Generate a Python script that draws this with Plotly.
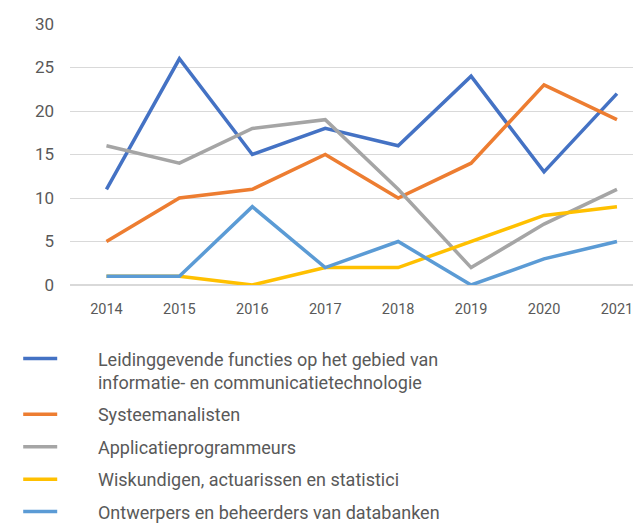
import plotly.graph_objects as go

years = ["2014", "2015", "2016", "2017", "2018", "2019", "2020", "2021"]
pad = "\u00a0" * 8
names = [
    pad + "Leidinggevende functies op het gebied van<br>" + pad + "informatie- en communicatietechnologie",
    pad + "Systeemanalisten",
    pad + "Applicatieprogrammeurs",
    pad + "Wiskundigen, actuarissen en statistici",
    pad + "Ontwerpers en beheerders van databanken",
]
leidinggevende = [11, 26, 15, 18, 16, 24, 13, 22]
systeemanalisten = [5, 10, 11, 15, 10, 14, 23, 19]
applicatieprogrammeurs = [16, 14, 18, 19, 11, 2, 7, 11]
wiskundigen = [1, 1, 0, 2, 2, 5, 8, 9]
ontwerpers = [1, 1, 9, 2, 5, 0, 3, 5]
series = [leidinggevende, systeemanalisten, applicatieprogrammeurs, wiskundigen, ontwerpers]
colors = ["#4472C4", "#ED7D31", "#A5A5A5", "#FFC000", "#5B9BD5"]

fig = go.Figure()
for i, (n, s, c) in enumerate(zip(names, series, colors)):
    fig.add_trace(go.Scatter(x=years, y=s, name=n, mode="lines",
                             line=dict(color=c, width=3.5),
                             legendgroup=str(i)))

fig.update_layout(
    width=633, height=537,
    margin=dict(l=70, r=0, t=24, b=252),
    paper_bgcolor="white", plot_bgcolor="white",
    font=dict(family="Roboto", color="#595959"),
    xaxis=dict(type="category", range=[-0.5, 7.22], showgrid=False,
               showline=False, ticks="", ticklabelstandoff=13,
               ticklabeloverflow="allow",
               tickfont=dict(size=14.5, color="#595959")),
    yaxis=dict(range=[0, 30], dtick=5, showgrid=True, gridcolor="#D9D9D9",
               gridwidth=1, zeroline=True, zerolinecolor="#D9D9D9",
               showline=False, ticks="", ticklabelstandoff=15,
               tickfont=dict(size=17, color="#595959")),
    legend=dict(x=-0.092, y=-0.212, xanchor="left", yanchor="top",
                orientation="v", tracegroupgap=6, itemwidth=34, valign="top",
                font=dict(size=18, color="#595959")),
    showlegend=True,
)

fig.write_html(
    "out.html",
    config={"displayModeBar": False},
    post_script=(
        "document.body.style.margin='0';"
        "document.body.style.overflow='hidden';"
        "document.documentElement.style.overflow='hidden';"
    ),
)
